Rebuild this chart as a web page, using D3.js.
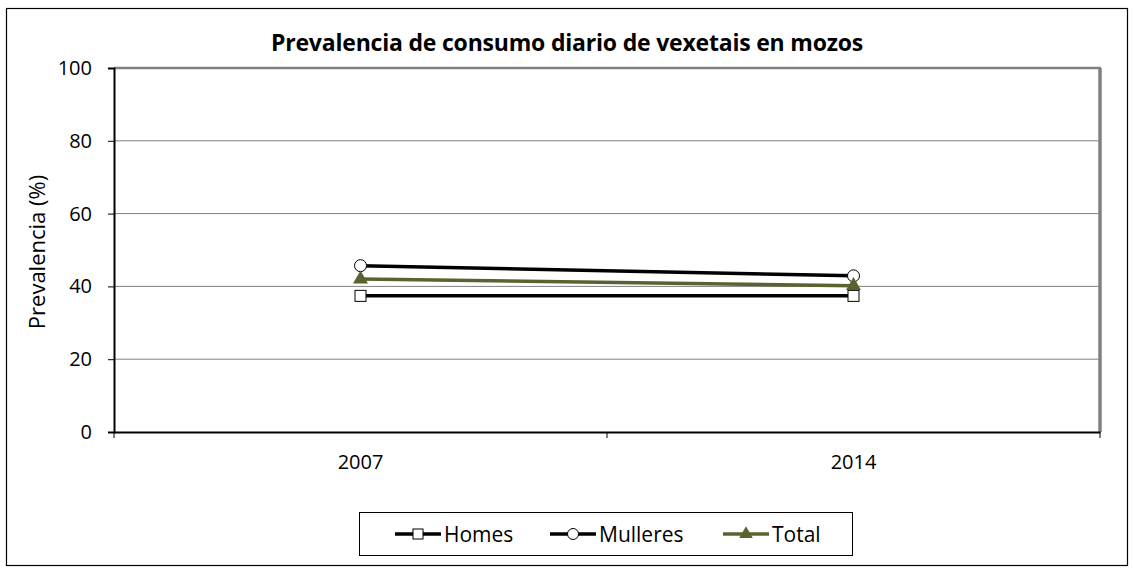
<!DOCTYPE html>
<html>
<head>
<meta charset="utf-8">
<script src="https://cdn.jsdelivr.net/npm/d3@7"></script>
<style>
  body { margin: 0; background: #fff; }
  text { font-family: "Open Sans", "Liberation Sans", sans-serif; }
</style>
</head>
<body>
<svg id="chart" width="1134" height="574"></svg>
<script>
let years = ['2007', '2014']
let homes = [37.4, 37.4]
let mulleres = [45.7, 42.9]
let total = [42.0, 40.2]
let yTicks = [0, 20, 40, 60, 80, 100]
let seriesNames = ['Homes', 'Mulleres', 'Total']

let svg = d3.select('#chart')
let margin = { left: 114, top: 68, right: 1100, bottom: 432 }

// outer frame
svg.append('rect')
    .attr('x', 6.5).attr('y', 8.5)
    .attr('width', 1121).attr('height', 557)
    .attr('fill', 'white').attr('stroke', 'black').attr('stroke-width', 1.2)

svg.append('text')
    .attr('x', 567).attr('y', 51)
    .attr('text-anchor', 'middle')
    .attr('font-size', 23).attr('font-weight', 'bold')
    .attr('letter-spacing', -0.2)
    .text('Prevalencia de consumo diario de vexetais en mozos')

let x = d3.scaleBand().domain(years).range([margin.left, margin.right])
let y = d3.scaleLinear().domain([0, 100]).range([margin.bottom, margin.top])

// plot border (gray top/right)
svg.append('line')
    .attr('x1', margin.left).attr('x2', margin.right + 1)
    .attr('y1', margin.top).attr('y2', margin.top)
    .attr('stroke', '#808080').attr('stroke-width', 2.5)
svg.append('line')
    .attr('x1', margin.right).attr('x2', margin.right)
    .attr('y1', margin.top).attr('y2', margin.bottom)
    .attr('stroke', '#808080').attr('stroke-width', 3.5)

// gridlines
svg.selectAll('.grid').data(yTicks.filter(d => d > 0 && d < 100))
    .enter().append('line')
    .attr('x1', margin.left).attr('x2', margin.right)
    .attr('y1', d => y(d)).attr('y2', d => y(d))
    .attr('stroke', '#808080').attr('stroke-width', 1)

// y axis
let yAxis = svg.append('g')
    .attr('transform', 'translate(' + margin.left + ',0)')
    .call(d3.axisLeft(y).tickValues(yTicks).tickSize(6).tickPadding(16))
yAxis.select('.domain').attr('stroke', 'black').attr('stroke-width', 2)
yAxis.selectAll('text').attr('font-size', 20).attr('fill', 'black')

// x axis
let xAxis = svg.append('g')
    .attr('transform', 'translate(0,' + margin.bottom + ')')
    .call(d3.axisBottom(x).tickSize(0).tickPadding(23))
xAxis.select('.domain').attr('stroke', 'black').attr('stroke-width', 2)
xAxis.selectAll('text').attr('font-size', 20).attr('fill', 'black')
let boundaries = [margin.left, margin.left + x.bandwidth(), margin.right]
svg.selectAll('.xtick').data(boundaries)
    .enter().append('line')
    .attr('x1', d => d).attr('x2', d => d)
    .attr('y1', margin.bottom).attr('y2', margin.bottom + 6)
    .attr('stroke', 'black').attr('stroke-width', 1)

svg.append('text')
    .attr('transform', 'translate(45,' + (y(50) + 2) + ') rotate(-90)')
    .attr('text-anchor', 'middle')
    .attr('font-size', 22)
    .text('Prevalencia (%)')

let cx = d => x(d) + x.bandwidth() / 2
let line = d3.line().x((d, i) => cx(years[i])).y(d => y(d))

let series = [
    { name: 'Homes', values: homes, color: 'black', marker: 'square' },
    { name: 'Mulleres', values: mulleres, color: 'black', marker: 'circle' },
    { name: 'Total', values: total, color: '#5a6330', marker: 'triangle' }
]

function drawMarker(g, type, px, py, color, s) {
    if (type === 'square') {
        g.append('rect').attr('x', px - s).attr('y', py - s)
            .attr('width', 2 * s).attr('height', 2 * s)
            .attr('fill', 'white').attr('stroke', 'black').attr('stroke-width', 1)
    } else if (type === 'circle') {
        g.append('circle').attr('cx', px).attr('cy', py).attr('r', s + 0.5)
            .attr('fill', 'white').attr('stroke', 'black').attr('stroke-width', 1)
    } else {
        g.append('path')
            .attr('d', d3.symbol().type(d3.symbolTriangle).size(s * s * 3.2)())
            .attr('transform', 'translate(' + px + ',' + py + ')')
            .attr('fill', color)
    }
}

let plot = svg.append('g')
series.forEach(s => {
    plot.append('path').datum(s.values)
        .attr('d', line)
        .attr('fill', 'none').attr('stroke', s.color).attr('stroke-width', 3.5)
})
series.forEach(s => {
    s.values.forEach((v, i) => drawMarker(plot, s.marker, cx(years[i]), y(v), s.color, 5.5))
})

// legend
svg.append('rect')
    .attr('x', 359.5).attr('y', 512.5)
    .attr('width', 493).attr('height', 43)
    .attr('fill', 'white').attr('stroke', 'black').attr('stroke-width', 1)

let legendX = [395, 550, 723]
series.forEach((s, i) => {
    let g = svg.append('g').attr('transform', 'translate(' + legendX[i] + ',534)')
    g.append('line').attr('x1', 0).attr('x2', 46).attr('y1', 0).attr('y2', 0)
        .attr('stroke', s.color).attr('stroke-width', 3.5)
    drawMarker(g, s.marker, 23, 0, s.color, 5)
    g.append('text').attr('x', 49).attr('y', 7.5)
        .attr('font-size', 21)
        .text(s.name)
})
</script>
</body>
</html>
